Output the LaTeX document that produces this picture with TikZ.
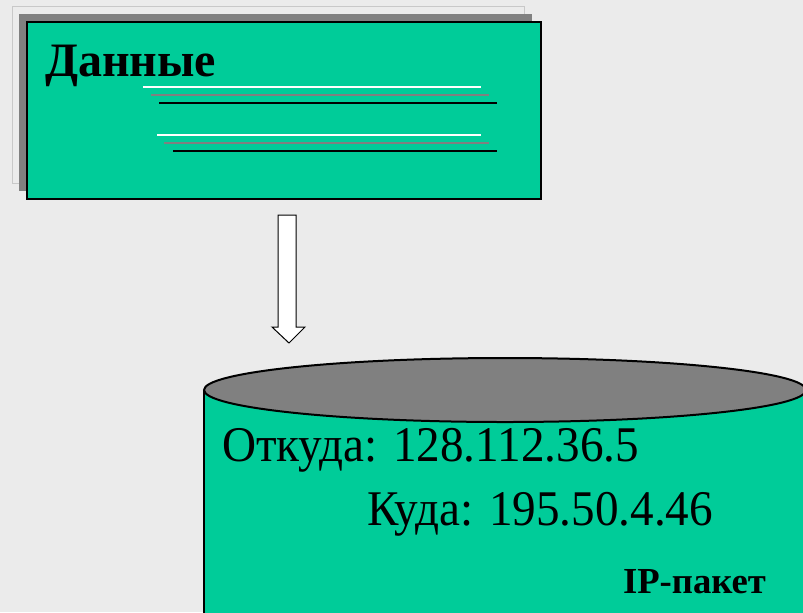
\documentclass[tikz,border=0pt]{standalone}
\usepackage{xcolor}
\usepackage{fontspec}
\setmainfont{Liberation Serif}
\usepackage{tikz}
\definecolor{bg}{HTML}{EBEBEB}
\definecolor{sea}{HTML}{00CC99}
\definecolor{midgray}{HTML}{808080}
\definecolor{pagegray}{HTML}{C8C8C8}
\newcommand{\tallbox}[1]{\scalebox{1.01}[1.07]{#1}}

\begin{document}
\begin{tikzpicture}[x=0.75pt,y=-0.75pt,line join=miter,
            every node/.style={inner sep=0pt,outer sep=0pt}]
        \tikzstyle{big}=[anchor=base west,font=\fontsize{35}{35}\selectfont]
        \tikzstyle{rule}=[line width=1.5pt]

        % background and frame
        \fill[bg] (0,0) rectangle (803,612);
        \useasboundingbox (0,0) rectangle (803,612);

        % stacked pages with data
        \filldraw[fill=bg,draw=pagegray,line width=0.75pt] (12,6) rectangle (524,183);
        \fill[midgray] (19,14) rectangle (532,191);
        \filldraw[fill=sea,draw=black,line width=1.5pt] (27,22) rectangle (541,199);
        \node[anchor=base west,font=\fontsize{36}{36}\selectfont\bfseries] (data) at (45,76) {Данные};
        \draw[rule,white] (143,87) -- (481,87);
        \draw[rule,midgray] (151,95) -- (489,95);
        \draw[rule,black] (159,103) -- (497,103);
        \draw[rule,white] (157,135) -- (481,135);
        \draw[rule,midgray] (164,143) -- (489,143);
        \draw[rule,black] (173,151) -- (497,151);

        % block arrow
        \filldraw[fill=white,draw=black,line width=0.75pt]
            (278,215) -- (296,215) -- (296,327) -- (305,327) -- (289,343)
            -- (272,327) -- (278,327) -- cycle;

        % packet cylinder
        \fill[sea] (204,390) rectangle (806,615);
        \draw[line width=1.5pt] (204,390) -- (204,615);
        \filldraw[fill=midgray,draw=black,line width=1.5pt] (505,390) ellipse (301 and 32);
        \node[big] (from) at (222,461) {\tallbox{Откуда: 128.112.36.5}};
        \node[big] (to) at (367,525) {\tallbox{Куда: 195.50.4.46}};
        \node[anchor=base west,font=\fontsize{27.5}{27.5}\selectfont\bfseries] (packet) at (623,593) {IP-пакет};
    \end{tikzpicture}
\end{document}
